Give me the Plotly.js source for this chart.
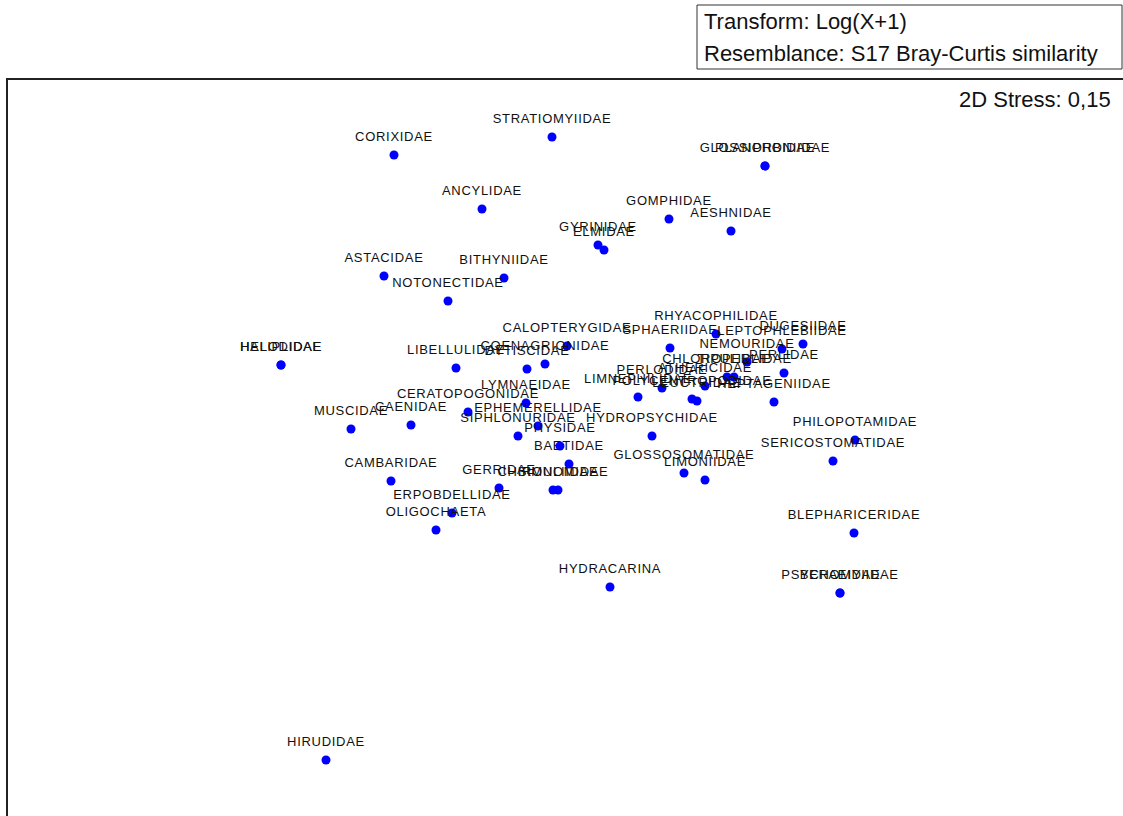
<!DOCTYPE html>
<html>
<head>
<meta charset="utf-8">
<script src="https://cdn.plot.ly/plotly-3.0.1.min.js"></script>
<style>
  html, body { margin: 0; padding: 0; overflow: hidden; background: #fff; }
  #chart { width: 1140px; height: 840px; }
  .scatterlayer .textpoint text { letter-spacing: 0.7px; }
</style>
</head>
<body>
<div id="chart"></div>
<script>
// NMDS ordination of families
const taxa = [
  "CORIXIDAE","STRATIOMYIIDAE","GLOSSIPHONIIDAE","PLANORBIDAE","ANCYLIDAE","GOMPHIDAE","AESHNIDAE",
  "GYRINIDAE","ELMIDAE","ASTACIDAE","BITHYNIIDAE","NOTONECTIDAE","HALIPLIDAE","HELODIDAE",
  "RHYACOPHILIDAE","SPHAERIIDAE","LEPTOPHLEBIIDAE","DUGESIIDAE","CALOPTERYGIDAE","COENAGRIONIDAE",
  "DYTISCIDAE","LIBELLULIDAE","NEMOURIDAE","PERLIDAE","CHLOROPERLIDAE","TIPULIDAE","ATHERICIDAE",
  "PERLODIDAE","LIMNEPHILIDAE","POLYCENTROPODIDAE","LEUCTRIDAE","HEPTAGENIIDAE","LYMNAEIDAE",
  "CERATOPOGONIDAE","CAENIDAE","EPHEMERELLIDAE","MUSCIDAE","SIPHLONURIDAE","PHYSIDAE",
  "HYDROPSYCHIDAE","PHILOPOTAMIDAE","SERICOSTOMATIDAE","BAETIDAE","GLOSSOSOMATIDAE","LIMONIIDAE",
  "CAMBARIDAE","GERRIDAE","CHIRONOMIDAE","SIMULIIDAE","ERPOBDELLIDAE","OLIGOCHAETA",
  "BLEPHARICERIDAE","HYDRACARINA","PSYCHOMYIIDAE","BERAEIDAE","HIRUDIDAE"
];
const nmds1 = [
  -0.88,-0.09,0.975,0.975,-0.44,0.495,0.805,
  0.14,0.17,-0.93,-0.33,-0.61,-1.445,-1.445,
  0.73,0.50,1.06,1.165,-0.015,-0.125,
  -0.215,-0.57,0.885,1.07,0.785,0.82,0.675,
  0.46,0.34,0.61,0.635,1.02,-0.22,
  -0.51,-0.795,-0.16,-1.095,-0.26,-0.05,
  0.41,1.425,1.315,-0.005,0.57,0.675,
  -0.895,-0.355,-0.085,-0.06,-0.59,-0.67,
  1.42,0.20,1.35,1.35,-1.22
];
const nmds2 = [
  1.505,1.595,1.45,1.45,1.235,1.185,1.125,
  1.055,1.03,0.90,0.89,0.775,0.455,0.455,
  0.61,0.54,0.535,0.56,0.55,0.46,
  0.435,0.44,0.47,0.415,0.395,0.395,0.35,
  0.34,0.295,0.285,0.275,0.27,0.265,
  0.22,0.155,0.15,0.135,0.10,0.05,
  0.10,0.08,-0.025,-0.04,-0.085,-0.12,
  -0.125,-0.16,-0.17,-0.17,-0.285,-0.37,
  -0.385,-0.655,-0.685,-0.685,-1.52
];
const infoLines = ["Transform: Log(X+1)", "Resemblance: S17 Bray-Curtis similarity"];
const stressText = "2D Stress: 0,15";

// plot area geometry helpers (pixels -> paper)
const W = 1140, H = 840, mL = 8, mR = 8, mT = 80, mB = 8;
const pw = W - mL - mR, ph = H - mT - mB;
const px = v => (v - mL) / pw;
const py = v => (H - mB - v) / ph;

const points = {
  type: "scatter",
  mode: "markers",
  x: nmds1,
  y: nmds2,
  marker: { color: "#0000FF", size: 9, line: { width: 0 } },
  cliponaxis: false,
  hoverinfo: "skip"
};
const labels = {
  type: "scatter",
  mode: "markers+text",
  x: nmds1,
  y: nmds2,
  text: taxa,
  textposition: "top center",
  textfont: { family: "Liberation Sans, Arial, sans-serif", size: 13, color: "#111" },
  marker: { color: "rgba(0,0,0,0)", size: 15, line: { width: 0 } },
  cliponaxis: false,
  hoverinfo: "text"
};

const axisCommon = {
  showgrid: false, zeroline: false, showticklabels: false, ticks: "",
  showline: true, mirror: true, linecolor: "#222", linewidth: 2
};

const layout = {
  width: W, height: H,
  margin: { l: mL, r: mR, t: mT, b: mB },
  paper_bgcolor: "#fff", plot_bgcolor: "#fff",
  showlegend: false,
  xaxis: Object.assign({ range: [-2.81, 2.81] }, axisCommon),
  yaxis: Object.assign({ range: [-1.88, 1.88] }, axisCommon),
  font: { family: "Liberation Sans, Arial, sans-serif" },
  shapes: [
    { type: "rect", xref: "paper", yref: "paper",
      x0: px(697), x1: px(1122), y0: py(69), y1: py(5),
      line: { color: "#333", width: 1 }, fillcolor: "rgba(0,0,0,0)" }
  ],
  annotations: [
    { xref: "paper", yref: "paper", x: px(702), y: py(21), xanchor: "left", yanchor: "middle",
      text: infoLines[0], showarrow: false, font: { size: 22, color: "#111" } },
    { xref: "paper", yref: "paper", x: px(702), y: py(53), xanchor: "left", yanchor: "middle",
      text: infoLines[1], showarrow: false, font: { size: 22, color: "#111" } },
    { xref: "paper", yref: "paper", x: px(1113), y: py(100), xanchor: "right", yanchor: "middle",
      text: stressText, showarrow: false, font: { size: 22, color: "#111" } }
  ]
};

Plotly.newPlot("chart", [points, labels], layout, { staticPlot: true, displayModeBar: false });
</script>
</body>
</html>
